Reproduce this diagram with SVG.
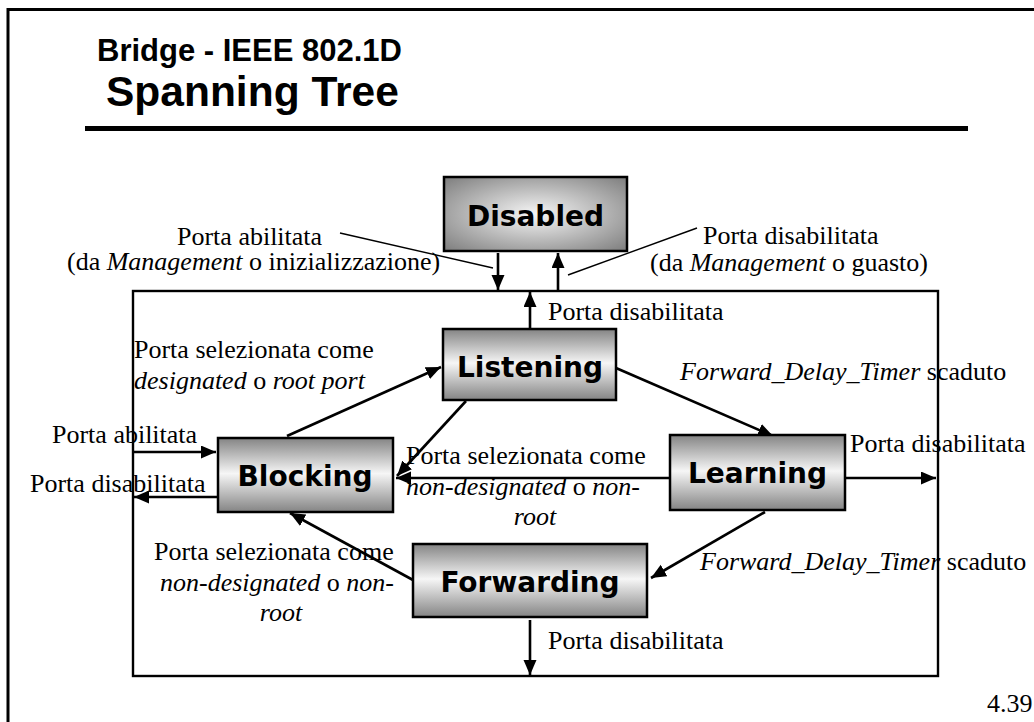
<svg xmlns="http://www.w3.org/2000/svg" width="1034" height="722" viewBox="0 0 1034 722">
  <style>
    .frame { fill: none; stroke: #000; }
    .title { font-family: "Liberation Sans", Arial, sans-serif; font-weight: bold; fill: #000; }
    .state rect { stroke: #000; stroke-width: 2.5; }
    .state text { font-family: "DejaVu Sans", Verdana, sans-serif; font-weight: bold; font-size: 28px; fill: #000; text-anchor: middle; }
    .lbl { font-family: "Liberation Serif", "Times New Roman", serif; font-size: 26px; fill: #000; }
    .it { font-style: italic; }
    .conn { stroke: #000; stroke-width: 2.6; fill: none; marker-end: url(#arrow); }
    .leader { stroke: #000; stroke-width: 1.4; fill: none; }
  </style>
  <defs>
    <marker id="arrow" markerUnits="userSpaceOnUse" markerWidth="16" markerHeight="14" refX="15" refY="6.5" orient="auto">
      <path d="M0,0 L15,6.5 L0,13 z" fill="#000"/>
    </marker>
    <linearGradient id="boxFill" x1="0" y1="0" x2="0" y2="1">
      <stop offset="0" stop-color="#848484"/>
      <stop offset="0.48" stop-color="#f6f6f6"/>
      <stop offset="1" stop-color="#848484"/>
    </linearGradient>
    <radialGradient id="boxFillCenter" cx="0.5" cy="0.5" r="0.72">
      <stop offset="0" stop-color="#f6f6f6"/>
      <stop offset="1" stop-color="#7a7a7a"/>
    </radialGradient>
  </defs>

  <rect width="1034" height="722" fill="#fff"/>

  <!-- slide frame and title -->
  <path class="frame" stroke-width="3" d="M8,740 V9.5 H1040"/>
  <text class="title" x="97" y="61" font-size="31">Bridge - IEEE 802.1D</text>
  <text class="title" x="106" y="106" font-size="42.5">Spanning Tree</text>
  <line x1="85" y1="128.5" x2="968" y2="128.5" stroke="#000" stroke-width="5"/>

  <!-- enabled-port region -->
  <rect class="frame" x="133" y="291" width="805" height="385" stroke-width="2.4"/>

  <!-- connectors -->
  <g id="connectors">
    <line class="conn" x1="498" y1="253" x2="498" y2="290"/>
    <line class="conn" x1="558" y1="291" x2="558" y2="253"/>
    <line class="leader" x1="340" y1="233" x2="493" y2="268"/>
    <line class="leader" x1="568" y1="275" x2="697" y2="228"/>
    <line class="conn" x1="530" y1="329" x2="530" y2="292"/>
    <line class="conn" x1="287" y1="436" x2="441" y2="367"/>
    <line class="conn" x1="466" y1="401" x2="397" y2="476"/>
    <line class="conn" x1="616" y1="368" x2="773" y2="436"/>
    <line class="conn" x1="670" y1="478" x2="396" y2="478"/>
    <line class="conn" x1="845" y1="478" x2="936" y2="478"/>
    <line class="conn" x1="765" y1="512" x2="651" y2="578"/>
    <line class="conn" x1="413" y1="580" x2="290" y2="513"/>
    <line class="conn" x1="530" y1="620" x2="530" y2="675"/>
    <line class="conn" x1="133" y1="452" x2="216" y2="452"/>
    <line class="conn" x1="218" y1="497" x2="134" y2="497"/>
  </g>

  <!-- states -->
  <g id="disabled" class="state">
    <rect x="444" y="177" width="183" height="74" fill="url(#boxFillCenter)"/>
    <text x="535.5" y="226">Disabled</text>
  </g>
  <g id="listening" class="state">
    <rect x="443" y="329" width="173" height="71" fill="url(#boxFill)"/>
    <text x="530" y="377">Listening</text>
  </g>
  <g id="blocking" class="state">
    <rect x="218" y="438" width="175" height="74" fill="url(#boxFill)"/>
    <text x="305" y="486">Blocking</text>
  </g>
  <g id="learning" class="state">
    <rect x="670" y="435" width="175" height="75" fill="url(#boxFill)"/>
    <text x="757.5" y="483">Learning</text>
  </g>
  <g id="forwarding" class="state">
    <rect x="413" y="544" width="234" height="73" fill="url(#boxFill)"/>
    <text x="530" y="592">Forwarding</text>
  </g>

  <!-- transition labels -->
  <g id="labels">
    <text class="lbl" x="177" y="245">Porta abilitata</text>
    <text class="lbl" x="67" y="270">(da <tspan class="it">Management</tspan> o inizializzazione)</text>
    <text class="lbl" x="703" y="244">Porta disabilitata</text>
    <text class="lbl" x="650" y="271">(da <tspan class="it">Management</tspan> o guasto)</text>
    <text class="lbl" x="548" y="320">Porta disabilitata</text>
    <text class="lbl" x="134" y="358">Porta selezionata come</text>
    <text class="lbl" x="134" y="389"><tspan class="it">designated</tspan> o <tspan class="it">root port</tspan></text>
    <text class="lbl" x="680" y="380"><tspan class="it">Forward_Delay_Timer</tspan> scaduto</text>
    <text class="lbl" x="52" y="443">Porta abilitata</text>
    <text class="lbl" x="30" y="492">Porta disabilitata</text>
    <text class="lbl" x="406" y="464">Porta selezionata come</text>
    <text class="lbl" x="406" y="495"><tspan class="it">non-designated</tspan> o <tspan class="it">non-</tspan></text>
    <text class="lbl it" x="535" y="525" text-anchor="middle">root</text>
    <text class="lbl" x="850" y="452">Porta disabilitata</text>
    <text class="lbl" x="700" y="570"><tspan class="it">Forward_Delay_Timer</tspan> scaduto</text>
    <text class="lbl" x="154" y="560">Porta selezionata come</text>
    <text class="lbl" x="160" y="591"><tspan class="it">non-designated</tspan> o <tspan class="it">non-</tspan></text>
    <text class="lbl it" x="281" y="621" text-anchor="middle">root</text>
    <text class="lbl" x="548" y="649">Porta disabilitata</text>
    <text class="lbl" x="987" y="712">4.39</text>
  </g>
</svg>
